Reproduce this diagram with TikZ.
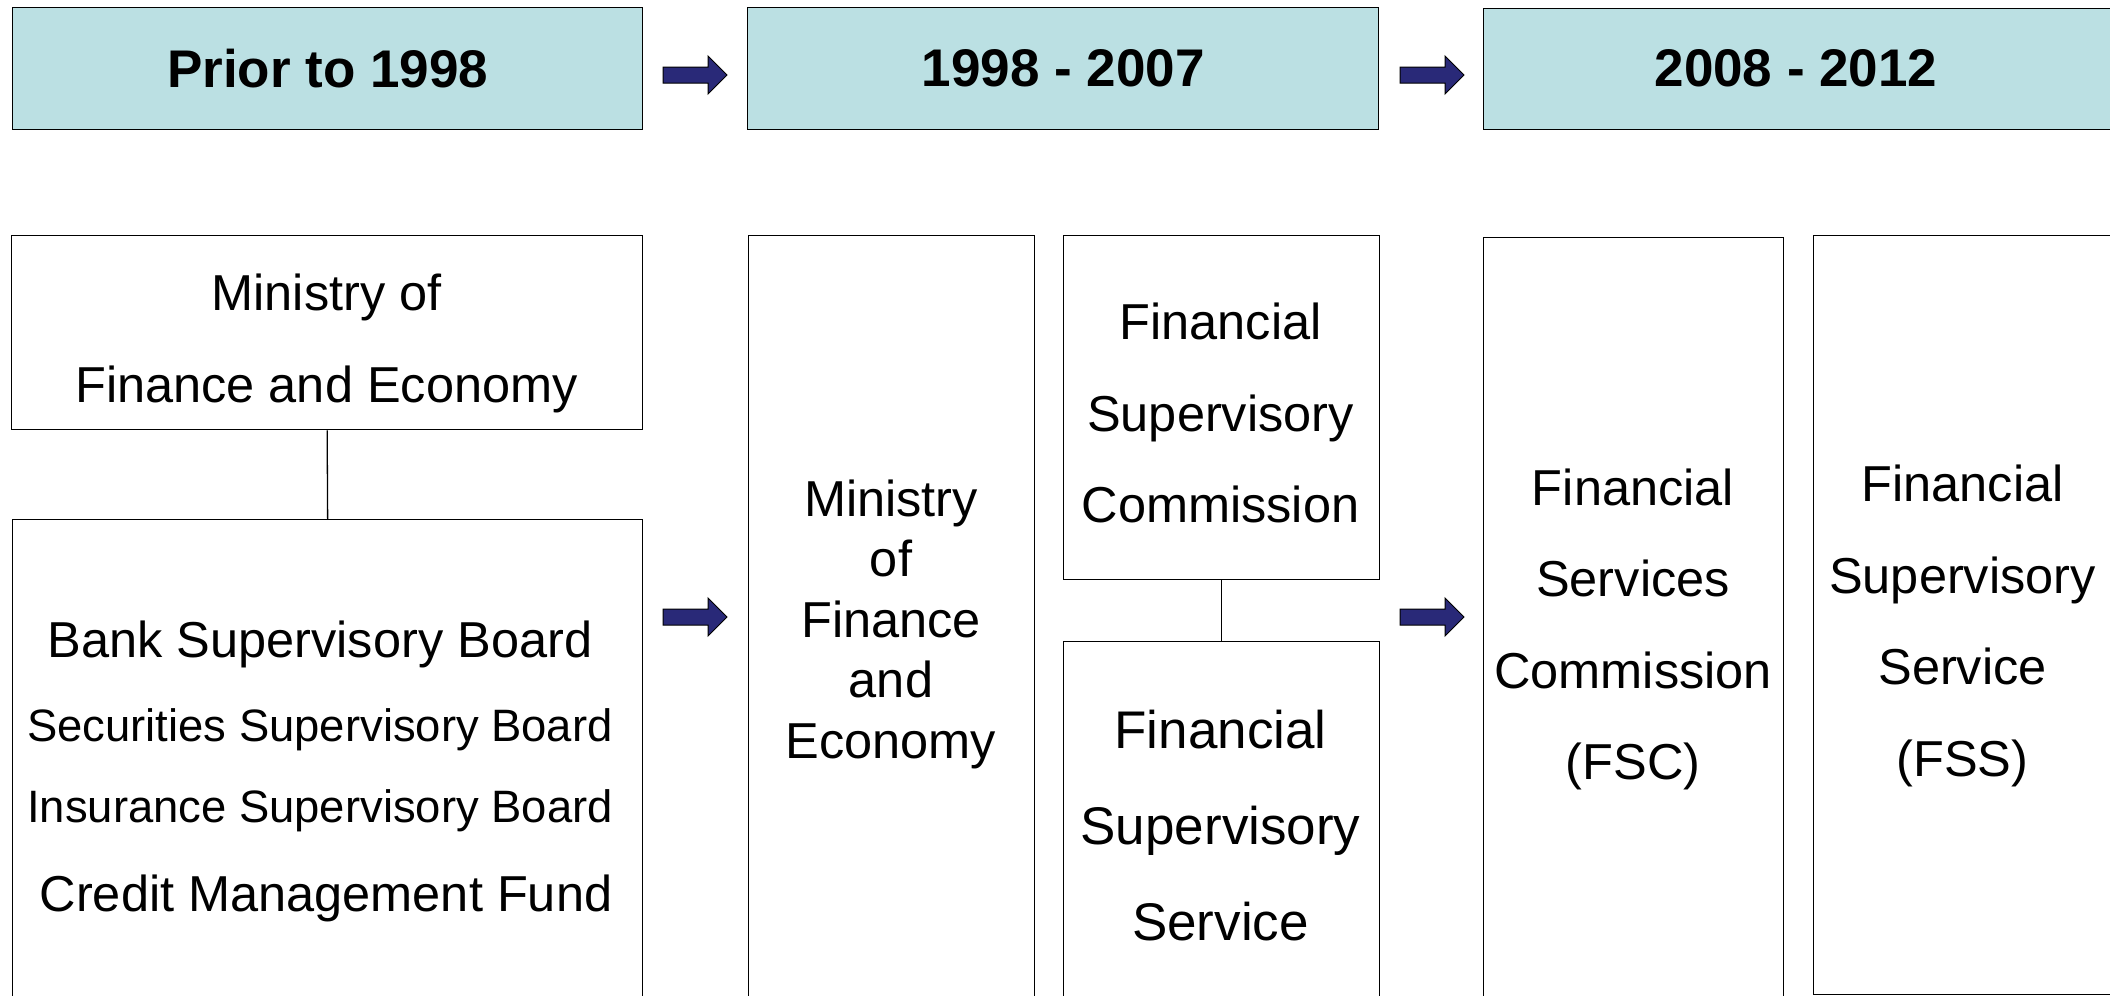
\documentclass[tikz,border=0pt]{standalone}
\usepackage{fontspec}
\setmainfont{Liberation Sans}
\definecolor{headblue}{RGB}{187,224,227}
\definecolor{arrownavy}{RGB}{41,41,120}
\begin{document}
\begin{tikzpicture}[x=1pt,y=-1pt,
  period/.style={draw=black, line width=1.3pt, fill=headblue, rectangle,
    anchor=north west, inner sep=0pt},
  periodtxt/.style={inner sep=0pt, font=\fontsize{53}{60}\selectfont\bfseries},
  orgbox/.style={draw=black, line width=1.3pt, fill=white, rectangle,
    anchor=north west, inner sep=0pt},
  txt/.style={align=center, inner sep=0pt, font=\fontsize{50.5}{91.5}\selectfont},
  link/.style={draw=black, line width=1.3pt},
  pics/blockarrow/.style={code={
    \draw[line width=1pt, fill=arrownavy, line join=miter]
      (0,-8) -- (45,-8) -- (45,-19) -- (64,0) -- (45,19) -- (45,8) -- (0,8) -- cycle;}}
]
\clip (0,0) rectangle (2110,996);
\fill[white] (0,0) rectangle (2110,996);

% period headers
\node[period, minimum width=630pt, minimum height=122pt] (h1) at (12,7) {};
\node[period, minimum width=631pt, minimum height=122pt] (h2) at (747,7) {};
\node[period, minimum width=632pt, minimum height=121pt] (h3) at (1483,8) {};
\node[periodtxt] (h1t) at (h1.center) {Prior to 1998};
\node[periodtxt] (h2t) at (h2.center) {1998 - 2007};
\node[periodtxt] (h3t) at (1796,68) {2008 - 2012};

% block arrows between periods
\pic at (663,75) {blockarrow};
\pic at (1400,75) {blockarrow};
\pic at (663,617) {blockarrow};
\pic at (1400,617) {blockarrow};

% prior to 1998
\node[orgbox, minimum width=631pt, minimum height=194pt] (pmofe) at (11,235) {};
\node[orgbox, minimum width=630pt, minimum height=500pt] (pboards) at (12,519) {};
\draw[link] (pmofe.south) -- (pboards.north);
\node[txt] (pmofet) at (326.5,338) {\strut Ministry of\\\strut Finance and Economy};
\node[inner sep=0pt, anchor=base, font=\fontsize{50.5}{60}\selectfont] (bsb) at (320,657) {Bank Supervisory Board};
\node[inner sep=0pt, anchor=base, font=\fontsize{45.4}{55}\selectfont] (ssb) at (320,741) {Securities Supervisory Board};
\node[inner sep=0pt, anchor=base, font=\fontsize{45.4}{55}\selectfont] (isb) at (320,822) {Insurance Supervisory Board};
\node[inner sep=0pt, anchor=base, font=\fontsize{50.5}{60}\selectfont] (cmf) at (326,911) {Credit Management Fund};

% 1998 - 2007
\node[orgbox, minimum width=286pt, minimum height=800pt] (mofe) at (748,235) {};
\node[txt, font=\fontsize{50.5}{60.5}\selectfont] (mofet) at (891,625)
  {\strut Ministry\\\strut of\\\strut Finance\\\strut and\\\strut Economy};
\node[orgbox, minimum width=316pt, minimum height=344pt] (fsc98) at (1063,235) {};
\node[orgbox, minimum width=316pt, minimum height=400pt] (fss98) at (1063,641) {};
\draw[link] (fsc98.south) -- (fss98.north);
\node[txt] (fsc98t) at (1220.5,413)
  {\strut Financial\\\strut Supervisory\\\strut Commission};
\node[txt, font=\fontsize{53}{96}\selectfont] (fss98t) at (1220.5,825.5)
  {\strut Financial\\\strut Supervisory\\\strut Service};

% 2008 - 2012
\node[orgbox, minimum width=300pt, minimum height=800pt] (fsc08) at (1483,237) {};
\node[orgbox, minimum width=300pt, minimum height=759pt] (fss08) at (1813,235) {};
\node[txt] (fsc08t) at (1633,624)
  {\strut Financial\\\strut Services\\\strut Commission\\\strut (FSC)};
\node[txt] (fss08t) at (1962.5,620.5)
  {\strut Financial\\\strut Supervisory\\\strut Service\\\strut (FSS)};
\end{tikzpicture}
\end{document}
